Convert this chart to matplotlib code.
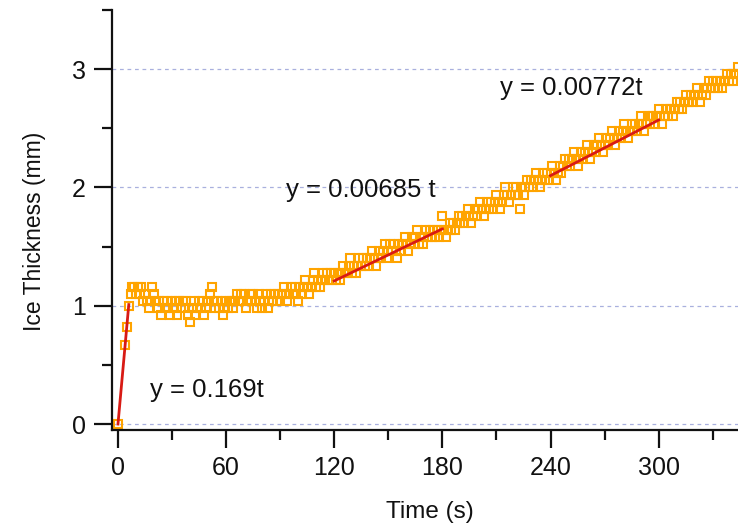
import numpy as np
import matplotlib
matplotlib.use("Agg")
import matplotlib.pyplot as plt
from matplotlib.ticker import MultipleLocator

# Ice thickness (mm)
t_start = [0, 4, 5, 6]
ice_start = [0.00, 0.67, 0.82, 1.00]

# one value per second from t = 7 s to t = 344 s
t_main = np.arange(7, 345)
ice_main = [
    1.10, 1.16, 1.16, 1.10, 1.16, 1.10, 1.16, 1.04, 1.10, 1.04,
    0.98, 1.04, 1.16, 1.10, 1.04, 0.98, 1.04, 0.92, 1.04, 0.98,
    1.04, 0.98, 0.92, 1.04, 0.98, 1.04, 0.92, 1.04, 0.98, 1.04,
    0.98, 1.04, 0.92, 0.86, 0.98, 1.04, 0.92, 0.98, 1.04, 0.98,
    1.04, 0.92, 0.98, 1.04, 1.10, 1.16, 1.04, 0.98, 1.04, 0.98,
    1.04, 0.92, 0.98, 1.04, 0.98, 1.04, 1.04, 0.98, 1.04, 1.10,
    1.04, 1.10, 1.04, 1.10, 0.98, 1.04, 1.10, 1.04, 1.10, 1.04,
    0.98, 1.10, 1.04, 0.98, 1.04, 1.10, 0.98, 1.04, 1.10, 1.04,
    1.10, 1.04, 1.10, 1.04, 1.10, 1.16, 1.10, 1.04, 1.10, 1.16,
    1.10, 1.16, 1.10, 1.04, 1.16, 1.10, 1.16, 1.22, 1.16, 1.10,
    1.16, 1.22, 1.28, 1.16, 1.22, 1.16, 1.22, 1.28, 1.22, 1.28,
    1.22, 1.28, 1.22, 1.28, 1.22, 1.28, 1.22, 1.28, 1.34, 1.28,
    1.28, 1.34, 1.40, 1.28, 1.34, 1.28, 1.34, 1.40, 1.34, 1.40,
    1.34, 1.40, 1.34, 1.40, 1.46, 1.40, 1.34, 1.40, 1.46, 1.40,
    1.46, 1.52, 1.40, 1.46, 1.52, 1.46, 1.52, 1.46, 1.40, 1.52,
    1.46, 1.52, 1.58, 1.52, 1.46, 1.52, 1.58, 1.52, 1.58, 1.64,
    1.52, 1.58, 1.52, 1.58, 1.64, 1.58, 1.64, 1.58, 1.64, 1.58,
    1.64, 1.58, 1.64, 1.76, 1.64, 1.58, 1.64, 1.70, 1.64, 1.70,
    1.64, 1.70, 1.76, 1.70, 1.76, 1.70, 1.76, 1.82, 1.76, 1.70,
    1.76, 1.82, 1.76, 1.82, 1.88, 1.82, 1.76, 1.82, 1.88, 1.82,
    1.88, 1.82, 1.88, 1.94, 1.88, 1.82, 1.88, 1.94, 2.00, 1.94,
    1.88, 1.94, 2.00, 1.94, 2.00, 1.94, 1.82, 2.00, 1.94, 2.00,
    2.06, 2.00, 2.06, 2.00, 2.06, 2.12, 2.06, 2.00, 2.06, 2.12,
    2.06, 2.12, 2.06, 2.12, 2.18, 2.12, 2.06, 2.12, 2.18, 2.12,
    2.18, 2.24, 2.18, 2.24, 2.18, 2.24, 2.30, 2.24, 2.18, 2.24,
    2.30, 2.24, 2.30, 2.36, 2.30, 2.24, 2.30, 2.36, 2.30, 2.36,
    2.42, 2.36, 2.30, 2.36, 2.42, 2.36, 2.42, 2.48, 2.42, 2.36,
    2.42, 2.48, 2.42, 2.48, 2.54, 2.48, 2.42, 2.48, 2.54, 2.48,
    2.54, 2.48, 2.54, 2.60, 2.54, 2.48, 2.54, 2.60, 2.54, 2.60,
    2.60, 2.54, 2.60, 2.66, 2.60, 2.54, 2.60, 2.66, 2.60, 2.66,
    2.66, 2.60, 2.66, 2.72, 2.66, 2.72, 2.66, 2.72, 2.78, 2.72,
    2.72, 2.78, 2.72, 2.78, 2.84, 2.78, 2.72, 2.78, 2.84, 2.78,
    2.84, 2.90, 2.84, 2.90, 2.84, 2.90, 2.84, 2.90, 2.84, 2.90,
    2.90, 2.96, 2.90, 2.96, 2.90, 2.96, 2.96, 3.02,
]

# linear fits (end points)
fit1_t, fit1_y = [0, 6], [0.0, 1.01]
fit2_t, fit2_y = [120, 180], [1.21, 1.65]
fit3_t, fit3_y = [240, 300], [2.10, 2.57]

fit_labels = ["y = 0.169t", "y = 0.00685 t", "y = 0.00772t"]
label_pos = [(17.5, 0.29), (93, 1.98), (212, 2.84)]

x_ticks = [0, 60, 120, 180, 240, 300]
y_ticks = [0, 1, 2, 3]

plt.rcParams['font.family'] = ['Liberation Sans', 'DejaVu Sans']

fig = plt.figure(figsize=(7.38, 5.25), dpi=100)
ax = fig.add_axes([0.1518, 0.181, 0.8482, 0.8])

orange = "#FFA400"
mk = dict(ls="none", marker="s", markersize=5.5, mfc="none", mec=orange, mew=1.5)
ax.plot(t_start, ice_start, **mk)
ax.plot(t_main, ice_main, **mk)

for ft, fy in [(fit1_t, fit1_y), (fit2_t, fit2_y), (fit3_t, fit3_y)]:
    ax.plot(ft, fy, color="#D81A14", lw=2, zorder=4)

for txt, (tx, ty) in zip(fit_labels, label_pos):
    ax.text(tx, ty, txt, fontsize=18.5, color="#111111", va="center", ha="left")

ax.set_xlim(-3.3, 344)
ax.set_ylim(-0.05, 3.5)
ax.set_xticks(x_ticks)
ax.set_yticks(y_ticks)
ax.xaxis.set_minor_locator(MultipleLocator(30))
ax.yaxis.set_minor_locator(MultipleLocator(0.5))

for yv in y_ticks:
    ax.axhline(yv, color="#a9b0de", lw=0.9, ls=(0, (3, 3)), zorder=0)

for side in ["top", "right"]:
    ax.spines[side].set_visible(False)
for side in ["left", "bottom"]:
    ax.spines[side].set_linewidth(1.6)
    ax.spines[side].set_color("#111111")

ax.tick_params(which="major", direction="out", length=13, width=1.6,
               labelsize=18, colors="#111111", pad=6)
ax.tick_params(which="minor", direction="out", length=7, width=1.6, colors="#111111")

ax.set_xlabel("Time (s)", fontsize=17.5, color="#111111")
ax.set_ylabel("Ice Thickness (mm)", fontsize=16.5, color="#111111")
ax.xaxis.set_label_coords(0.508, -0.168)
ax.yaxis.set_label_coords(-0.106, 0.474)

fig.savefig("out.png", dpi=100)
